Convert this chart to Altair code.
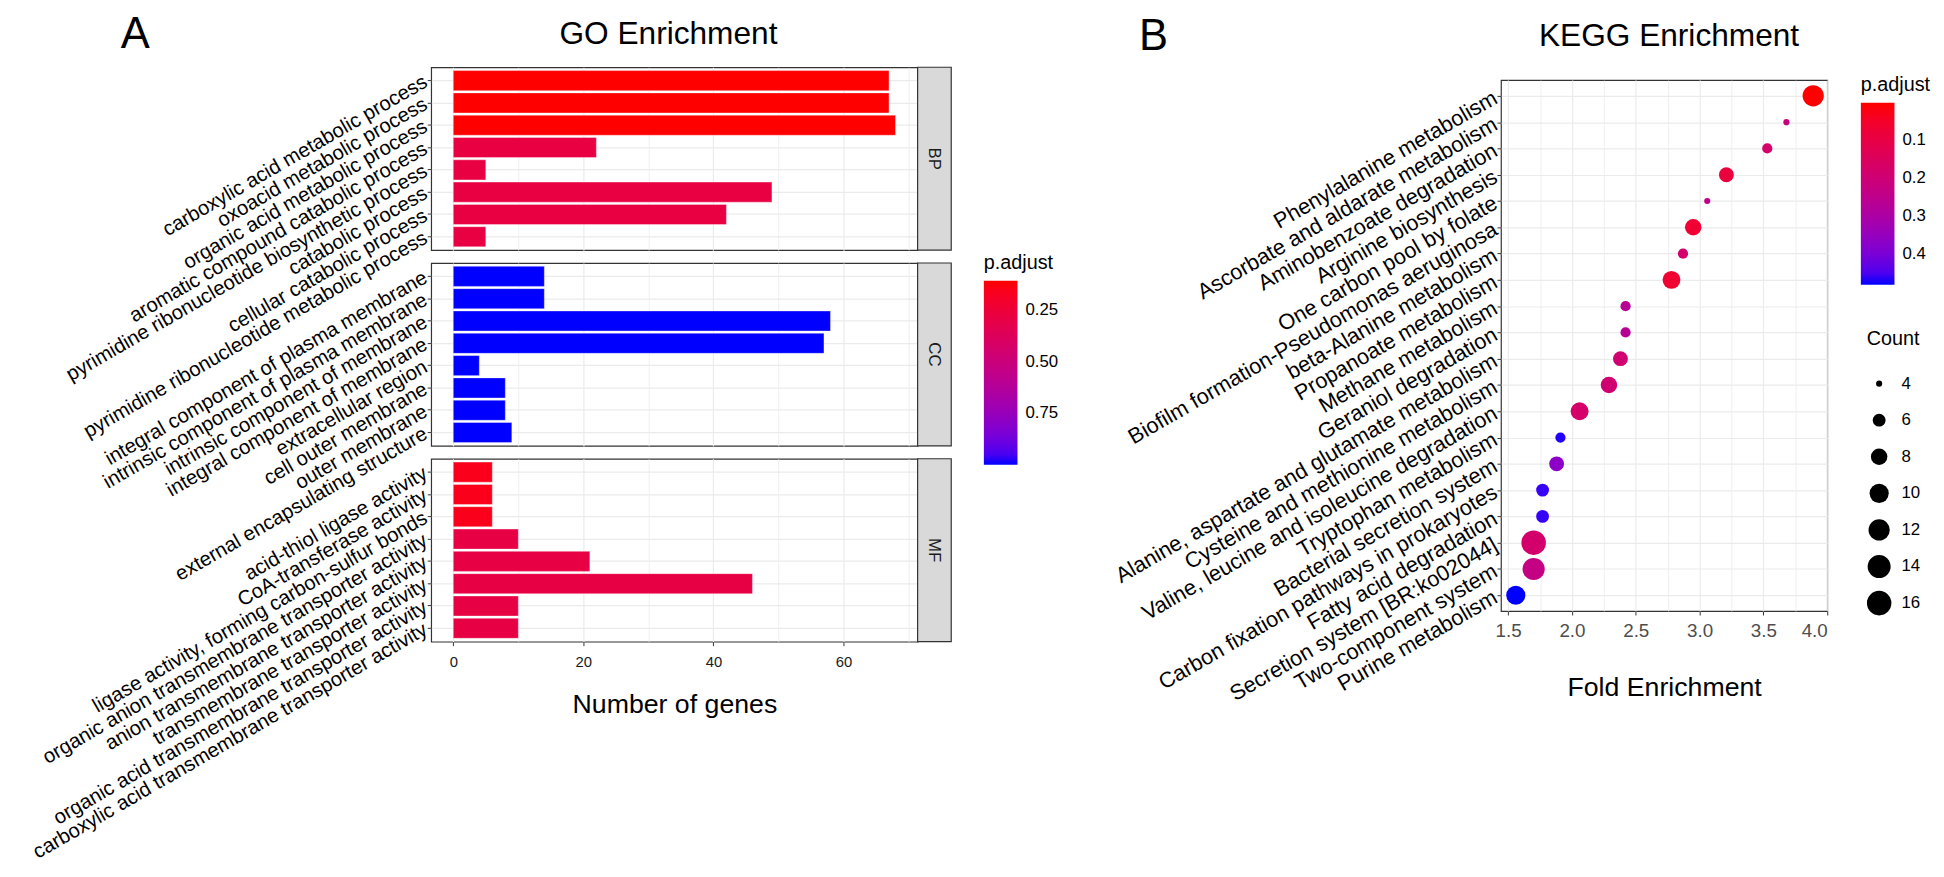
import altair as alt
import pandas as pd

FONT = "Liberation Sans"

# ---------------- GO data ----------------
bp_terms = [
    "carboxylic acid metabolic process",
    "oxoacid metabolic process",
    "organic acid metabolic process",
    "aromatic compound catabolic process",
    "pyrimidine ribonucleotide biosynthetic process",
    "catabolic process",
    "cellular catabolic process",
    "pyrimidine ribonucleotide metabolic process",
]
bp_counts = [67, 67, 68, 22, 5, 49, 42, 5]
bp_padj = [0.106, 0.106, 0.106, 0.285, 0.285, 0.285, 0.285, 0.285]

cc_terms = [
    "integral component of plasma membrane",
    "intrinsic component of plasma membrane",
    "intrinsic component of membrane",
    "integral component of membrane",
    "extracellular region",
    "cell outer membrane",
    "outer membrane",
    "external encapsulating structure",
]
cc_counts = [14, 14, 58, 57, 4, 8, 8, 9]
cc_padj = [1.0, 1.0, 1.0, 1.0, 1.0, 1.0, 1.0, 1.0]

mf_terms = [
    "acid-thiol ligase activity",
    "CoA-transferase activity",
    "ligase activity, forming carbon-sulfur bonds",
    "organic anion transmembrane transporter activity",
    "anion transmembrane transporter activity",
    "transmembrane transporter activity",
    "organic acid transmembrane transporter activity",
    "carboxylic acid transmembrane transporter activity",
]
mf_counts = [6, 6, 6, 10, 21, 46, 10, 10]
mf_padj = [0.15, 0.15, 0.15, 0.29, 0.29, 0.29, 0.29, 0.29]

go_ticks = [0, 20, 40, 60]
go_minor = [10, 30, 50, 70]
go_legend_values = [0.25, 0.50, 0.75]

# ---------------- KEGG data ----------------
kegg_terms = [
    "Phenylalanine metabolism",
    "Ascorbate and aldarate metabolism",
    "Aminobenzoate degradation",
    "Arginine biosynthesis",
    "One carbon pool by folate",
    "Biofilm formation-Pseudomonas aeruginosa",
    "beta-Alanine metabolism",
    "Propanoate metabolism",
    "Methane metabolism",
    "Geraniol degradation",
    "Alanine, aspartate and glutamate metabolism",
    "Cysteine and methionine metabolism",
    "Valine, leucine and isoleucine degradation",
    "Tryptophan metabolism",
    "Bacterial secretion system",
    "Carbon fixation pathways in prokaryotes",
    "Fatty acid degradation",
    "Secretion system [BR:ko02044]",
    "Two-component system",
    "Purine metabolism",
]
kegg_fold = [3.89, 3.68, 3.53, 3.21, 3.06, 2.95, 2.87, 2.78, 2.42, 2.42,
             2.38, 2.29, 2.06, 1.91, 1.88, 1.77, 1.77, 1.70, 1.70, 1.56]
kegg_counts = [12, 4, 5, 7, 4, 8, 5, 9, 5, 5, 7, 8, 9, 5, 7, 6, 6, 16, 13, 10]
kegg_padj = [0.001, 0.217, 0.175, 0.087, 0.24, 0.065, 0.18, 0.063, 0.265, 0.265,
             0.19, 0.19, 0.175, 0.475, 0.37, 0.466, 0.466, 0.18, 0.23, 0.481]

kegg_ticks = [1.5, 2.0, 2.5, 3.0, 3.5, 4.0]
kegg_minor = [1.75, 2.25, 2.75, 3.25, 3.75]
kegg_legend_values = [0.1, 0.2, 0.3, 0.4]
count_legend_values = [4, 6, 8, 10, 12, 14, 16]

# ---------------- layout constants ----------------
PW, PH = 492, 185
STRIP = 34
KW, KH = 330, 537
GRID = "#EBEBEB"
BORDER = "#333333"

all_go_p = bp_padj + cc_padj + mf_padj
# reversed domain so the colourbar shows the smallest p.adjust (red) on top
go_cscale = alt.Scale(domain=[max(all_go_p), min(all_go_p)], range=["#0000FF", "#FF0000"],
                      interpolate="lab", nice=False, zero=False)
go_xscale = alt.Scale(domain=[-3.4, 71.4], nice=False, zero=False)


def y_axis():
    return alt.Axis(title=None, labelAngle=330, labelAlign="right", labelBaseline="middle",
                    labelFontSize=20.5, labelColor="black", labelLimit=2000, labelPadding=2,
                    tickSize=4, tickColor=BORDER, tickWidth=1, grid=True, gridColor=GRID,
                    gridWidth=1.2, domain=False, tickBand="center", labelOverlap=False)


def go_panel(name, terms, counts, padj, bottom, title=None):
    df = pd.DataFrame({"Description": terms, "Count": counts, "padj": padj})
    yenc = alt.Y("Description:N", sort=terms,
                 scale=alt.Scale(paddingInner=0.1, paddingOuter=0.15), axis=y_axis())
    if bottom:
        xaxis = alt.Axis(values=go_ticks, title="Number of genes", titleFontSize=27,
                         titlePadding=23, labelFontSize=15, labelColor="#1A1A1A",
                         tickSize=4, tickColor=BORDER, labelPadding=9, domain=False,
                         grid=True, gridColor=GRID, gridWidth=1.2)
    else:
        xaxis = alt.Axis(values=go_ticks, labels=False, ticks=False, domain=False,
                         title=None, grid=True, gridColor=GRID, gridWidth=1.2)
    bars = alt.Chart(df).mark_bar(stroke="white", strokeWidth=0.6, strokeOpacity=0.6).encode(
        x=alt.X("Count:Q", scale=go_xscale, axis=xaxis),
        y=yenc,
        color=alt.Color("padj:Q", scale=go_cscale,
                        legend=alt.Legend(title="p.adjust", orient="none", legendX=559, legendY=188,
                                          gradientLength=186, gradientThickness=34,
                                          values=go_legend_values, format=".2f",
                                          labelFontSize=17, titleFontSize=20, titlePadding=8,
                                          labelOffset=8, direction="vertical",
                                          labelOverlap=False)),
    )
    minor = alt.Chart(df).mark_point(opacity=0).encode(
        x=alt.X("Count:Q", scale=go_xscale,
                axis=alt.Axis(values=go_minor, orient="top", labels=False, ticks=False,
                              domain=False, title=None, grid=True, gridColor=GRID, gridWidth=0.8)),
        y=yenc,
    )
    sdf = pd.DataFrame({"ont": [name]})
    strip = alt.Chart(sdf).mark_rect(fill="#D9D9D9", stroke=BORDER, strokeWidth=1.2).encode(
        x=alt.value(PW), x2=alt.value(PW + STRIP), y=alt.value(0), y2=alt.value(PH))
    stext = alt.Chart(sdf).mark_text(angle=90, fontSize=17, color="#1A1A1A", font=FONT).encode(
        text="ont:N", x=alt.value(PW + STRIP / 2), y=alt.value(PH / 2))
    kw = {}
    if title is not None:
        kw["title"] = title
    return alt.layer(minor, bars, strip, stext, **kw).resolve_axis(x="independent").properties(
        width=PW, height=PH)


go_title = alt.TitleParams("GO Enrichment", fontSize=32, anchor="middle", frame="group",
                           dx=-6, offset=15.5, font=FONT, fontWeight="normal", color="black")
bp = go_panel("BP", bp_terms, bp_counts, bp_padj, False, go_title)
cc = go_panel("CC", cc_terms, cc_counts, cc_padj, False)
mf = go_panel("MF", mf_terms, mf_counts, mf_padj, True)

go = alt.vconcat(bp, cc, mf, spacing=13, bounds="flush",
                 title=alt.TitleParams("A", fontSize=44, anchor="start", frame="group",
                                       dx=-314, dy=43.5, font=FONT, fontWeight="normal",
                                       color="black"))

# ---------------- KEGG chart ----------------
kdf = pd.DataFrame({"Description": kegg_terms, "FoldEnrichment": kegg_fold,
                    "Count": kegg_counts, "padj": kegg_padj})
kx = alt.Scale(domain=[1.444, 4.0], nice=False, zero=False)
ky = alt.Y("Description:N", sort=kegg_terms, scale=alt.Scale(padding=0.6),
           axis=alt.Axis(title=None, labelAngle=330, labelAlign="right", labelBaseline="middle",
                         labelFontSize=22, labelColor="black", labelLimit=2000, labelPadding=2,
                         tickSize=4, tickColor=BORDER, grid=True, gridColor=GRID, gridWidth=1.2,
                         domain=False, labelOverlap=False))

points = alt.Chart(kdf).mark_circle(opacity=1).encode(
    x=alt.X("FoldEnrichment:Q", scale=kx,
            axis=alt.Axis(values=kegg_ticks, format=".1f", title="Fold Enrichment",
                          titleFontSize=27, titlePadding=34, labelFontSize=19,
                          labelColor="#4D4D4D", tickSize=4, tickColor=BORDER, labelPadding=7,
                          domain=False, grid=True, gridColor=GRID, gridWidth=1.2)),
    y=ky,
    size=alt.Size("Count:Q",
                  scale=alt.Scale(type="sqrt", domain=[4, 16], range=[38.5, 616], zero=False),
                  legend=alt.Legend(title="Count", orient="none", legendX=370, legendY=265,
                                    values=count_legend_values, symbolFillColor="black",
                                    symbolStrokeWidth=0, symbolType="circle", symbolOpacity=1,
                                    labelFontSize=17, titleFontSize=20, rowPadding=9,
                                    clipHeight=28, titlePadding=21, labelOffset=10)),
    color=alt.Color("padj:Q",
                    scale=alt.Scale(domain=[max(kegg_padj), min(kegg_padj)],
                                    range=["#0000FF", "#FF0000"], interpolate="lab",
                                    nice=False, zero=False),
                    legend=alt.Legend(title="p.adjust", orient="none", legendX=364, legendY=8,
                                      gradientLength=184, gradientThickness=34,
                                      values=kegg_legend_values, format=".1f",
                                      labelFontSize=17, titleFontSize=20, titlePadding=8,
                                      labelOffset=8, direction="vertical", labelOverlap=False)),
)
kminor = alt.Chart(kdf).mark_point(opacity=0).encode(
    x=alt.X("FoldEnrichment:Q", scale=kx,
            axis=alt.Axis(values=kegg_minor, orient="top", labels=False, ticks=False,
                          domain=False, title=None, grid=True, gridColor=GRID, gridWidth=0.8)),
    y=ky,
)
kegg = alt.layer(kminor, points,
                 title=alt.TitleParams("KEGG Enrichment", fontSize=32, anchor="middle",
                                       frame="group", dx=5, offset=27, font=FONT,
                                       fontWeight="normal", color="black")
                 ).resolve_axis(x="independent").properties(width=KW, height=KH)

spacer = alt.Chart(pd.DataFrame({"s": [0]})).mark_point(opacity=0).encode(
    x=alt.value(0), y=alt.value(0)).properties(
    width=KW, height=1, view=alt.ViewBackground(stroke="transparent"))

kegg_wrap = alt.vconcat(spacer, kegg, spacing=12, bounds="flush",
                        title=alt.TitleParams("B", fontSize=44, anchor="start", frame="group",
                                              dx=-366, dy=43, font=FONT, fontWeight="normal",
                                              color="black"))

chart = alt.hconcat(go, kegg_wrap, spacing=PW + 590, bounds="flush").resolve_scale(
    color="independent", size="independent").resolve_legend(
    color="independent", size="independent").properties(
    padding={"left": 20, "top": 0, "right": 5, "bottom": 0}
).configure(font=FONT).configure_axis(
    labelFont=FONT, titleFont=FONT, titleFontWeight="normal", titleColor="black"
).configure_legend(
    labelFont=FONT, titleFont=FONT, titleFontWeight="normal", titleColor="black",
    labelColor="black"
).configure_title(font=FONT, fontWeight="normal", color="black").configure_view(
    stroke=BORDER, strokeWidth=1.2
)

chart.save("out.html", embed_options={"renderer": "svg", "actions": False})
